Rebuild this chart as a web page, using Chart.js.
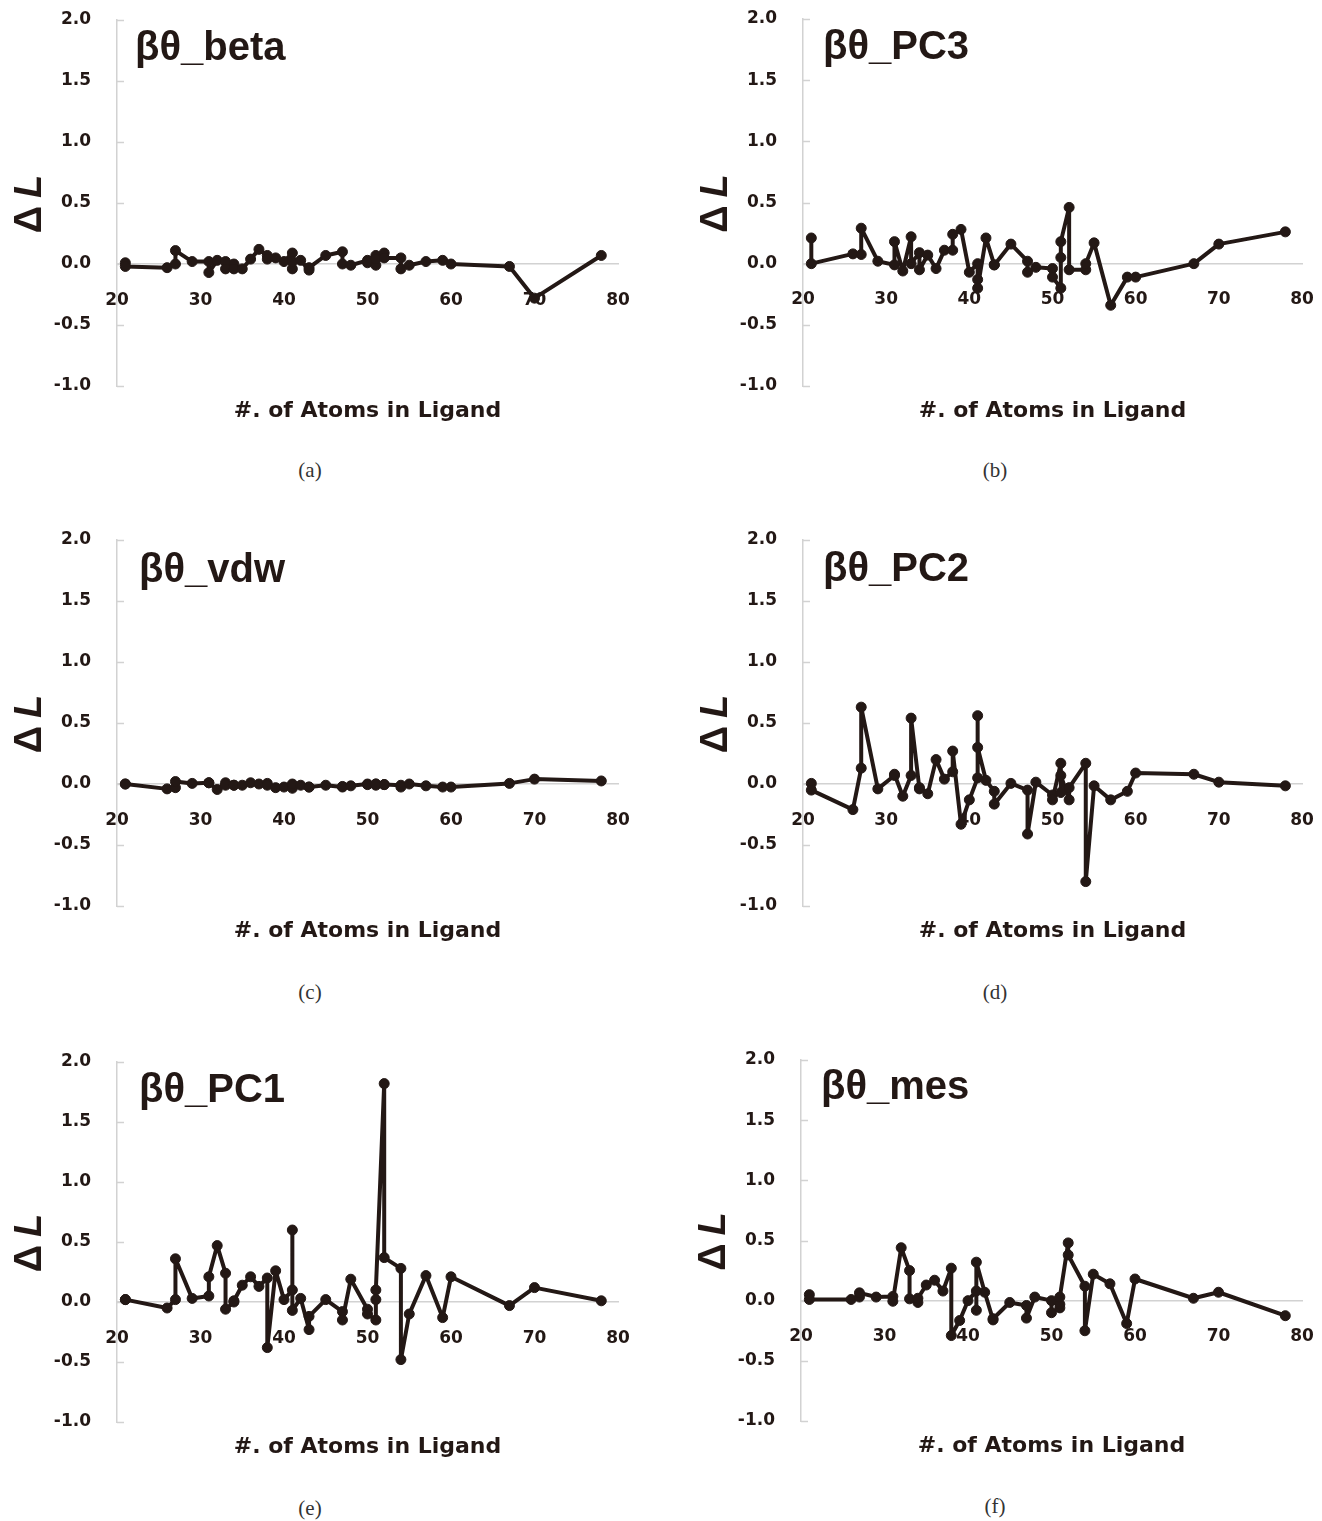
<!DOCTYPE html>
<html>
<head>
<meta charset="utf-8">
<title>ΔL vs. number of ligand atoms</title>
<script src="https://cdn.jsdelivr.net/npm/chart.js@4.4.1/dist/chart.umd.min.js"></script>
<style>
  html, body { margin: 0; padding: 0; background: #fff; }
  body { position: relative; width: 1322px; height: 1521px; overflow: hidden; }
  canvas { position: absolute; }
  .caption {
    position: absolute;
    transform: translate(-50%, -50%);
    font: 21px "Liberation Serif", serif;
    color: #333;
    line-height: 1;
    white-space: nowrap;
  }
</style>
</head>
<body>
<div class="caption" style="left:310px;top:470px">(a)</div>
<div class="caption" style="left:995px;top:470px">(b)</div>
<div class="caption" style="left:310px;top:992px">(c)</div>
<div class="caption" style="left:995px;top:992px">(d)</div>
<div class="caption" style="left:310px;top:1508px">(e)</div>
<div class="caption" style="left:995px;top:1506px">(f)</div>

<script>
// number of atoms in each ligand (shared by all six panels)
const atoms = [21, 21, 26, 27, 27, 29, 31, 31, 32, 33, 33, 34, 34, 35, 36, 37, 38, 38, 39, 40,
               41, 41, 41, 42, 43, 43, 45, 47, 47, 48, 50, 50, 51, 51, 51, 52, 52, 54, 54, 55,
               57, 59, 60, 67, 70, 78];

// ΔL for each parameter set, same order as atoms
const dBeta = [0.01, -0.02, -0.03, 0.0, 0.11, 0.02, 0.02, -0.07, 0.03, 0.02, -0.04, 0.0, -0.04, -0.04,
               0.04, 0.12, 0.07, 0.04, 0.05, 0.02, 0.09, -0.04, 0.02, 0.03, -0.05, -0.03, 0.07, 0.1,
               0.0, -0.01, 0.03, 0.01, -0.01, 0.07, 0.04, 0.09, 0.05, 0.05, -0.04, -0.01, 0.02, 0.03,
               0.0, -0.02, -0.28, 0.07];
const dPC3 = [0.21, 0.0, 0.08, 0.075, 0.29, 0.02, -0.01, 0.18, -0.06, 0.22, 0.0, 0.09, -0.05, 0.07,
              -0.04, 0.11, 0.11, 0.24, 0.28, -0.07, 0.0, -0.13, -0.2, 0.21, -0.01, -0.01, 0.16, 0.02,
              -0.07, -0.03, -0.04, -0.11, -0.2, 0.05, 0.18, 0.46, -0.05, -0.05, 0.0, 0.17, -0.34, -0.11,
              -0.11, 0.0, 0.16, 0.26];
const dVdw = [0.0, 0.0, -0.04, -0.03, 0.02, 0.005, 0.01, 0.01, -0.045, 0.01, -0.01, -0.01, -0.01, -0.01,
              0.01, 0.0, 0.005, -0.01, -0.03, -0.025, -0.01, -0.035, 0.0, -0.01, -0.025, -0.025, -0.01,
              -0.025, -0.02, -0.015, 0.0, -0.005, 0.0, -0.01, 0.0, -0.005, -0.005, -0.01, -0.025, 0.0,
              -0.015, -0.025, -0.025, 0.005, 0.04, 0.025];
const dPC2 = [0.005, -0.05, -0.21, 0.13, 0.63, -0.04, 0.07, 0.08, -0.1, 0.07, 0.54, -0.04, -0.03, -0.08,
              0.2, 0.04, 0.1, 0.27, -0.33, -0.13, 0.05, 0.56, 0.3, 0.03, -0.06, -0.165, 0.005, -0.05,
              -0.41, 0.015, -0.09, -0.13, 0.17, -0.07, 0.07, -0.13, -0.03, 0.17, -0.8, -0.015, -0.13,
              -0.06, 0.09, 0.08, 0.015, -0.015];
const dPC1 = [0.02, 0.02, -0.05, 0.02, 0.36, 0.03, 0.05, 0.21, 0.47, 0.24, -0.06, 0.0, 0.01, 0.14,
              0.21, 0.13, 0.2, -0.38, 0.26, 0.02, 0.1, 0.6, -0.07, 0.03, -0.23, -0.12, 0.02, -0.08,
              -0.15, 0.19, -0.06, -0.1, -0.15, 0.02, 0.1, 1.82, 0.37, 0.28, -0.48, -0.1, 0.22, -0.13,
              0.21, -0.03, 0.12, 0.01];
const dMes = [0.05, 0.01, 0.01, 0.03, 0.065, 0.03, 0.035, -0.005, 0.44, 0.25, 0.015, -0.015, 0.02, 0.13,
              0.17, 0.08, 0.27, -0.29, -0.165, 0.0, 0.08, -0.08, 0.32, 0.07, -0.16, -0.15, -0.015, -0.04,
              -0.145, 0.03, 0.0, -0.1, -0.06, -0.03, 0.03, 0.48, 0.38, 0.12, -0.25, 0.22, 0.14, -0.19,
              0.18, 0.02, 0.07, -0.125];

const xTicks = { min: 20, max: 80, step: 10 };
const yTicks = { min: -1, max: 2, step: 0.5 };

const ink = '#231815';
const axisGrey = '#d2d2d2';
const CW = 636, CH = 440;   // canvas size
const AXIS_W = 117;         // room for the ΔL labels left of the plot
const PAD_TOP = 20;

// where each panel goes on the page and how big its plot box is
const panels = [
  { name: 'βθ_beta', values: dBeta, left: 0,   top: 0,    w: 501, h: 366, nx: 18, ny: 40 },
  { name: 'βθ_PC3',  values: dPC3,  left: 686, top: -1,   w: 499, h: 367, nx: 20, ny: 40 },
  { name: 'βθ_vdw',  values: dVdw,  left: 0,   top: 520,  w: 501, h: 366, nx: 22, ny: 42 },
  { name: 'βθ_PC2',  values: dPC2,  left: 686, top: 520,  w: 499, h: 366, nx: 20, ny: 41 },
  { name: 'βθ_PC1',  values: dPC1,  left: 0,   top: 1042, w: 501, h: 360, nx: 22, ny: 40 },
  { name: 'βθ_mes',  values: dMes,  left: 684, top: 1040, w: 501, h: 361, nx: 20, ny: 39 }
];

const panelDecor = {
  id: 'panelDecor',
  beforeDatasetsDraw(chart) {
    // short tick marks pointing into the plot on the ΔL axis
    const { ctx, chartArea, scales: { y } } = chart;
    ctx.save();
    ctx.strokeStyle = axisGrey;
    ctx.lineWidth = 1.5;
    ctx.beginPath();
    y.ticks.forEach(t => {
      const py = Math.round(y.getPixelForValue(t.value)) + 0.5;
      ctx.moveTo(chartArea.left, py);
      ctx.lineTo(chartArea.left + 7, py);
    });
    ctx.stroke();
    ctx.restore();
  },
  afterDraw(chart, args, opts) {
    const { ctx, chartArea: a } = chart;
    ctx.save();
    ctx.fillStyle = ink;
    ctx.textBaseline = 'alphabetic';

    // parameter-set name in the upper left of the plot
    ctx.textAlign = 'left';
    ctx.font = 'bold 40px "Liberation Sans"';
    ctx.fillText(opts.name, a.left + opts.nx, a.top + opts.ny);

    // x axis title
    ctx.textAlign = 'center';
    ctx.font = 'bold 22px "DejaVu Sans"';
    ctx.fillText('#. of Atoms in Ligand', (a.left + a.right) / 2, a.bottom + 31);

    // y axis title, rotated, italic L
    const upright = 'bold 38px "Liberation Sans"';
    const slanted = 'italic bold 38px "Liberation Sans"';
    ctx.font = upright;
    const w1 = ctx.measureText('Δ').width + 8;
    ctx.font = slanted;
    const w2 = ctx.measureText('L').width;
    ctx.translate(a.left - 76, a.top + a.height / 2 + 1);
    ctx.rotate(-Math.PI / 2);
    ctx.textAlign = 'left';
    ctx.font = upright;
    ctx.fillText('Δ', -(w1 + w2) / 2, 0);
    ctx.font = slanted;
    ctx.fillText('L', -(w1 + w2) / 2 + w1, 0);
    ctx.restore();
  }
};

const tickFont = { family: '"DejaVu Sans"', size: 17, weight: 'bold' };

panels.forEach(p => {
  const canvas = document.createElement('canvas');
  canvas.width = CW;
  canvas.height = CH;
  canvas.style.left = p.left + 'px';
  canvas.style.top = p.top + 'px';
  document.body.appendChild(canvas);

  new Chart(canvas, {
    type: 'line',
    data: {
      datasets: [{
        data: atoms.map((x, i) => ({ x: x, y: p.values[i] })),
        borderColor: ink,
        backgroundColor: ink,
        borderWidth: 4,
        borderJoinStyle: 'round',
        pointRadius: 5,
        pointBackgroundColor: ink,
        pointBorderColor: ink,
        pointBorderWidth: 1,
        tension: 0
      }]
    },
    options: {
      responsive: false,
      animation: false,
      events: [],
      layout: {
        padding: {
          left: 0,
          top: PAD_TOP,
          right: CW - AXIS_W - p.w,
          bottom: CH - PAD_TOP - p.h
        }
      },
      plugins: {
        legend: { display: false },
        tooltip: { enabled: false },
        panelDecor: { name: p.name, nx: p.nx, ny: p.ny }
      },
      scales: {
        x: {
          type: 'linear',
          position: { y: 0 },
          min: xTicks.min,
          max: xTicks.max,
          ticks: {
            stepSize: xTicks.step,
            color: ink,
            font: tickFont,
            padding: 0,
            maxRotation: 0,
            minRotation: 0,
            autoSkip: false
          },
          grid: { drawOnChartArea: false, drawTicks: true, tickLength: 26, tickColor: 'rgba(0,0,0,0)' },
          border: { color: axisGrey, width: 1.5 }
        },
        y: {
          min: yTicks.min,
          max: yTicks.max,
          ticks: {
            stepSize: yTicks.step,
            color: ink,
            font: tickFont,
            padding: 0,
            callback: v => v.toFixed(1)
          },
          // invisible tick marks only push the labels away from the axis
          grid: { drawOnChartArea: false, drawTicks: true, tickLength: 26, tickColor: 'rgba(0,0,0,0)' },
          border: { color: axisGrey, width: 1.5 },
          afterFit(scale) { scale.width = AXIS_W; }
        }
      }
    },
    plugins: [panelDecor]
  });
});
</script>
</body>
</html>
